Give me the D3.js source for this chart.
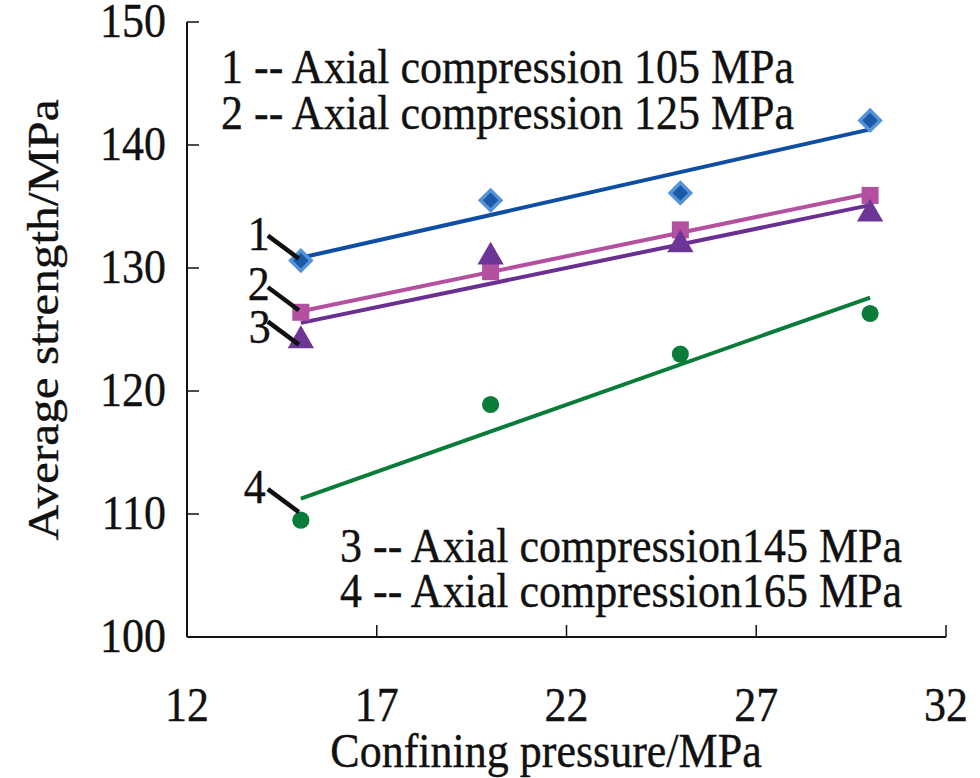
<!DOCTYPE html>
<html>
<head>
<meta charset="utf-8">
<script src="https://cdn.jsdelivr.net/npm/d3@7"></script>
<style>
  body { margin: 0; background: #fff; }
  text { font-family: "Liberation Serif", "Times New Roman", serif; fill: #111; stroke: #111; stroke-width: 0.35px; }
</style>
</head>
<body>
<div id="chart"></div>
<script>
// data
const pressure = [15, 20, 25, 30];
const s105 = [130.6, 135.5, 136.1, 142.0];
const s125 = [126.4, 129.7, 133.1, 135.9];
const s145 = [124.1, 130.9, 131.9, 134.4];
const s165 = [109.5, 118.9, 123.0, 126.3];
const xTicks = [12, 17, 22, 27, 32];
const yTicks = [100, 110, 120, 130, 140, 150];
const legendTop = ["1 -- Axial compression 105 MPa", "2 -- Axial compression 125 MPa"];
const legendBottom = ["3 -- Axial compression145 MPa", "4 -- Axial compression165 MPa"];

const W = 980, H = 778;
const fs = 44, sy = 1.12; // text in the figure is slightly stretched vertically

const svg = d3.select("#chart").append("svg")
  .attr("width", W)
  .attr("height", H);

const x = d3.scaleLinear().domain([12, 32]).range([187, 946]);
const y = d3.scaleLinear().domain([100, 150]).range([637, 22]);

// axes
const axisG = svg.append("g");
axisG.append("line")
  .attr("x1", x(12)).attr("x2", x(12))
  .attr("y1", y(150)).attr("y2", y(100))
  .attr("stroke", "#111").attr("stroke-width", 2);
axisG.append("line")
  .attr("x1", x(12)).attr("x2", x(32))
  .attr("y1", y(100)).attr("y2", y(100))
  .attr("stroke", "#111").attr("stroke-width", 2);

axisG.selectAll(".ytick").data(yTicks).join("line")
  .attr("x1", x(12)).attr("x2", x(12) + 12)
  .attr("y1", d => y(d)).attr("y2", d => y(d))
  .attr("stroke", "#111").attr("stroke-width", 1.5);
axisG.selectAll(".xtick").data(xTicks.slice(1)).join("line")
  .attr("x1", d => x(d)).attr("x2", d => x(d))
  .attr("y1", y(100)).attr("y2", y(100) - 12)
  .attr("stroke", "#111").attr("stroke-width", 1.5);

function stretchText(g, tx, ty, str, anchor, rot) {
  return g.append("text")
    .attr("transform", `translate(${tx},${ty}) scale(1,${sy})` + (rot ? ` rotate(${rot})` : ""))
    .attr("text-anchor", anchor || "start")
    .attr("font-size", fs)
    .text(str);
}

yTicks.forEach(d => stretchText(svg, 166, y(d) + 15, d, "end"));
xTicks.forEach(d => stretchText(svg, x(d), 721, d, "middle"));

stretchText(svg, 546, 767, "Confining pressure/MPa", "middle");
stretchText(svg, 58, 320, "Average strength/MPa", "middle", -90);

legendTop.forEach((t, i) => stretchText(svg, 221, 83 + i * 46, t));
legendBottom.forEach((t, i) => stretchText(svg, 340, 562 + i * 45, t));

// series
const series = [
  { name: "1", values: s105, line: "#0f4fa3", fill: "#1b5aa6", stroke: "#5593d8", shape: d3.symbolSquare, size: 210, rot: 45 },
  { name: "2", values: s125, line: "#b4509f", fill: "#b4509f", stroke: "none", shape: d3.symbolSquare, size: 290, rot: 0 },
  { name: "3", values: s145, line: "#6b2f92", fill: "#6c3596", stroke: "none", shape: d3.symbolTriangle, size: 300, rot: 0 },
  { name: "4", values: s165, line: "#0a7c3a", fill: "#0a7c3a", stroke: "none", shape: d3.symbolCircle, size: 230, rot: 0 }
];

function fit(vals) {
  const mx = d3.mean(pressure), my = d3.mean(vals);
  const sxy = d3.sum(pressure, (p, i) => (p - mx) * (vals[i] - my));
  const sxx = d3.sum(pressure, p => (p - mx) * (p - mx));
  const b = sxy / sxx;
  return p => my + b * (p - mx);
}

const lineGen = d3.line().x(d => x(d[0])).y(d => y(d[1]));

series.forEach(s => {
  const f = fit(s.values);
  const ends = [pressure[0], pressure[pressure.length - 1]];
  svg.append("path")
    .attr("d", lineGen(ends.map(p => [p, f(p)])))
    .attr("fill", "none")
    .attr("stroke", s.line)
    .attr("stroke-width", 4);
});

series.forEach(s => {
  svg.selectAll(null).data(s.values).join("path")
    .attr("transform", (d, i) => `translate(${x(pressure[i])},${y(d)}) rotate(${s.rot})`)
    .attr("d", d3.symbol().type(s.shape).size(s.size))
    .attr("fill", s.fill)
    .attr("stroke", s.stroke)
    .attr("stroke-width", 3.5);
});

// numbered callouts pointing at the first point of each series
const callouts = [
  { s: 0, dy: 0, lx: -53, ly: -11 },
  { s: 1, dy: 0, lx: -53, ly: -12 },
  { s: 2, dy: 6, lx: -52, ly: 2 },
  { s: 3, dy: -6, lx: -57, ly: -17 }
];
callouts.forEach(c => {
  const px = x(pressure[0]), py = y(series[c.s].values[0]) + c.dy;
  svg.append("line")
    .attr("x1", px - 33).attr("y1", py - 25)
    .attr("x2", px - 2).attr("y2", py - 2)
    .attr("stroke", "#111").attr("stroke-width", 4.5);
  stretchText(svg, px + c.lx, py - c.dy + c.ly, series[c.s].name);
});
</script>
</body>
</html>
